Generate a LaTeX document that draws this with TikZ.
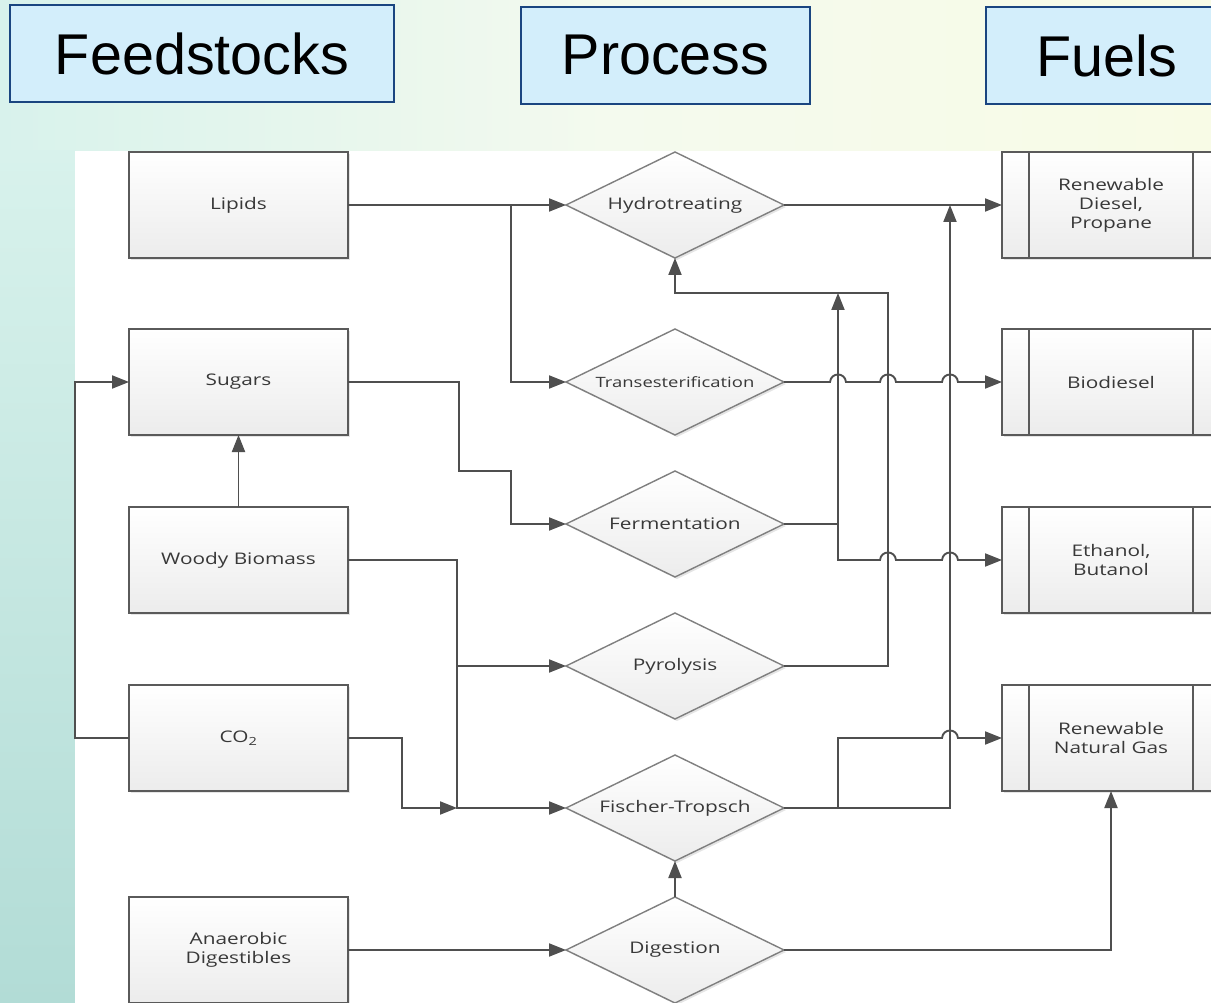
\documentclass[tikz,border=0pt]{standalone}
\usepackage{fontspec}
\usetikzlibrary{arrows.meta,shapes.geometric,shadows}
\newfontfamily\boxfont[FakeStretch=1.3]{Open Sans}
\newfontfamily\headfont{Liberation Sans}
\definecolor{linec}{HTML}{4F4F4F}
\definecolor{boxborder}{HTML}{5A5A5A}
\definecolor{diaborder}{HTML}{7F7F7F}
\definecolor{boxbot}{HTML}{ECECEC}
\definecolor{txt}{HTML}{383838}
\definecolor{headfill}{HTML}{D3EEFB}
\definecolor{headborder}{HTML}{1A4580}
\definecolor{bgmint}{HTML}{D8F2EC}
\definecolor{bgmid}{HTML}{F4FAEE}
\definecolor{bgcream}{HTML}{F8FBE6}
\definecolor{bgteal}{HTML}{B2DCD6}
\tikzset{
  boxshadow/.style={drop shadow={shadow xshift=2pt,shadow yshift=-2pt,fill=black,opacity=0.1}},
  feed/.style={draw=boxborder, line width=1.9pt, top color=white, bottom color=boxbot,
    minimum width=219, minimum height=106, inner sep=0pt, outer sep=0pt,
    font=\boxfont\fontsize{16}{19}\selectfont, text=txt, align=center, boxshadow},
  fuel/.style={feed, minimum width=218},
  proc/.style={diamond, draw=diaborder, line width=1.4pt, top color=white, bottom color=boxbot,
    minimum width=218, minimum height=106, inner sep=0pt, outer sep=0pt,
    font=\boxfont\fontsize{16}{19}\selectfont, text=txt, boxshadow},
  head/.style={draw=headborder, line width=1.8pt, fill=headfill, inner sep=0pt, outer sep=0pt,
    minimum height=97, font=\headfont\fontsize{57.5}{60}\selectfont, text=black},
  conn/.style={draw=linec, line width=1.9pt},
  arr/.style={conn, -{Triangle[length=17pt,width=13pt]}},
  inner line/.style={draw=boxborder, line width=1.9pt}
}
\begin{document}
\begin{tikzpicture}[x=1pt,y=-1pt]
\useasboundingbox (0,0) rectangle (1211,1003);
\clip (0,0) rectangle (1211,1003);
% background
\shade[left color=bgmint, right color=bgcream, middle color=bgmid] (0,0) rectangle (1211,151);
\shade[top color=bgmint, bottom color=bgteal] (0,151) rectangle (75,1003);
\fill[white] (75,151) rectangle (1211,1003);

% headers
\node[head, minimum width=384] (hfeed) at (202,53.5) {Feedstocks};
\node[head, minimum width=289] (hproc) at (665.5,55.5) {Process};
\node[head, minimum width=241] (hfuel) at (1106.5,55.5) {Fuels};

% feedstocks
\node[feed] (lip) at (238.5,205) {Lipids};
\node[feed] (sug) at (238.5,382) {Sugars};
\node[feed] (woo) at (238.5,560) {Woody Biomass};
\node[feed] (co2) at (238.5,738) {CO\textsubscript{2}};
\node[feed] (ana) at (238.5,950) {Anaerobic\\Digestibles};

% processes
\node[proc] (hyd) at (675,205) {\makebox[0pt]{Hydrotreating}};
\node[proc] (tra) at (675,382) {\makebox[0pt]{\fontsize{14.2}{16}\selectfont Transesterification}};
\node[proc] (fer) at (675,524) {\makebox[0pt]{Fermentation}};
\node[proc] (pyr) at (675,666) {\makebox[0pt]{Pyrolysis}};
\node[proc] (fis) at (675,808) {\makebox[0pt]{Fischer-Tropsch}};
\node[proc] (dig) at (675,950) {\makebox[0pt]{Digestion}};

% fuels
\node[fuel] (rdp) at (1111,205) {Renewable\\Diesel,\\Propane};
\node[fuel] (bio) at (1111,382) {Biodiesel};
\node[fuel] (eth) at (1111,560) {Ethanol,\\Butanol};
\node[fuel] (rng) at (1111,738) {Renewable\\Natural Gas};
\foreach \f in {rdp,bio,eth,rng}{
  \draw[inner line] ([xshift=27pt]\f.north west) -- ([xshift=27pt]\f.south west);
  \draw[inner line] ([xshift=-27pt]\f.north east) -- ([xshift=-27pt]\f.south east);
}

% connectors
\draw[arr] (lip.east) -- (hyd.west);
\draw[arr] (511,205) |- (tra.west);
\draw[arr] (sug.east) -- (459,382) -- (459,471) -- (511,471) |- (fer.west);
\draw[arr] (woo.north) -- (sug.south);
\draw[arr] (woo.east) -| (457,808) -- (fis.west);
\draw[arr] (457,666) -- (pyr.west);
\draw[arr] (co2.east) -- (402,738) |- (457,808);
\draw[arr] (co2.west) -- (75,738) |- (sug.west);
\draw[arr] (ana.east) -- (dig.west);

\draw[arr] (hyd.east) -- (rdp.west);
\draw[arr] (tra.east) -- (830,382) .. controls (831,372) and (845,372) .. (846,382)
  -- (880,382) .. controls (881,372) and (895,372) .. (896,382)
  -- (942,382) .. controls (943,372) and (957,372) .. (958,382) -- (bio.west);
\draw[arr] (fer.east) -- (838,524) -- (838,293);
\draw[arr] (838,524) -- (838,560)
  -- (880,560) .. controls (881,550) and (895,550) .. (896,560)
  -- (942,560) .. controls (943,550) and (957,550) .. (958,560) -- (eth.west);
\draw[arr] (pyr.east) -| (888,293) -| (hyd.south);
\draw[arr] (fis.east) -| (950,205);
\draw[arr] (838,808) -- (838,738)
  -- (942,738) .. controls (943,728) and (957,728) .. (958,738) -- (rng.west);
\draw[arr] (dig.north) -- (fis.south);
\draw[arr] (dig.east) -| (rng.south);
\end{tikzpicture}
\end{document}
